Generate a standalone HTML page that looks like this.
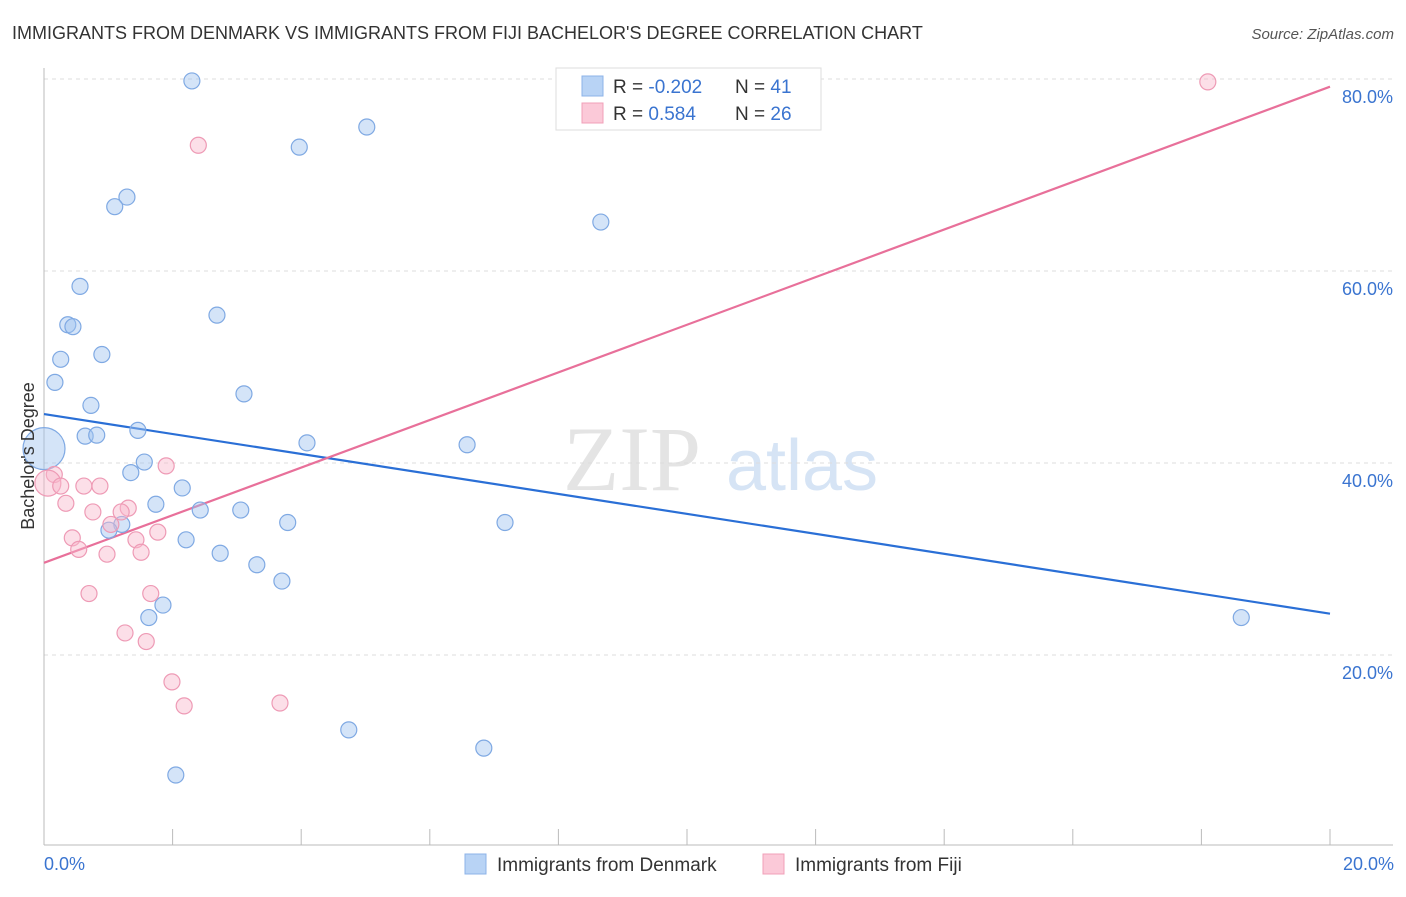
<!DOCTYPE html>
<html><head><meta charset="utf-8"><style>
body{margin:0;background:#fff;font-family:"Liberation Sans",sans-serif;}
svg text{font-family:"Liberation Sans",sans-serif;}
</style></head><body>
<svg id="chart" width="1406" height="892" xmlns="http://www.w3.org/2000/svg">
<text x="12" y="39" font-size="18" fill="#333">IMMIGRANTS FROM DENMARK VS IMMIGRANTS FROM FIJI BACHELOR'S DEGREE CORRELATION CHART</text>
<text x="1394" y="39" font-size="15" fill="#555" text-anchor="end" font-style="italic">Source: ZipAtlas.com</text>
<g>
<text x="632" y="490" font-size="92" fill="#e4e4e4" text-anchor="middle" font-family="Liberation Serif" style="font-family:'Liberation Serif',serif">ZIP</text>
<text x="802" y="490" font-size="72" fill="#d6e4f5" text-anchor="middle">atlas</text>
</g>
<g id="grid"></g><g id="axes"></g><g id="lines"></g><g id="pts"></g>
<text transform="translate(34,456) rotate(-90)" font-size="18" fill="#333" text-anchor="middle">Bachelor's Degree</text>
<text x="44" y="870" font-size="18" fill="#3a74d0">0.0%</text>
<text x="1394" y="870" font-size="18" fill="#3a74d0" text-anchor="end">20.0%</text>
<g>
<rect x="556" y="68" width="265" height="62" fill="#fff" stroke="#ddd"/>
<rect x="582" y="76" width="21" height="20" fill="#b8d3f5" stroke="#8cb3e8"/>
<rect x="582" y="103" width="21" height="20" fill="#fbc9d8" stroke="#f0a0b8"/>
<text x="613" y="93" font-size="19" fill="#333">R = <tspan fill="#3a74d0">-0.202</tspan></text>
<text x="735" y="93" font-size="19" fill="#333">N = <tspan fill="#3a74d0"> 41</tspan></text>
<text x="613" y="120" font-size="19" fill="#333">R = <tspan fill="#3a74d0">  0.584</tspan></text>
<text x="735" y="120" font-size="19" fill="#333">N = <tspan fill="#3a74d0">26</tspan></text>
</g>
<g>
<rect x="465" y="854" width="21" height="20" fill="#b8d3f5" stroke="#8cb3e8"/>
<text x="497" y="871" font-size="19" fill="#333">Immigrants from Denmark</text>
<rect x="763" y="854" width="21" height="20" fill="#fbc9d8" stroke="#f0a0b8"/>
<text x="795" y="871" font-size="19" fill="#333">Immigrants from Fiji</text>
</g>
</svg>
<script>
const yTicks=[20,40,60,80];
const yTickLabels=["20.0%","40.0%","60.0%","80.0%"];
const xTicks=[0,2,4,6,8,10,12,14,16,18,20];
const denX=[2.30,5.02,3.97,1.29,1.10,8.66,0.56,2.69,0.37,0.45,0.26,0.90,0.17,3.11,0.73,1.46,0.64,0.82,4.09,6.58,1.56,1.35,2.15,1.74,2.43,3.06,3.79,7.17,1.21,1.01,2.21,2.74,3.31,3.70,1.85,1.63,18.62,4.74,6.84,2.05,0];
const denY=[79.8,75.0,72.9,67.7,66.7,65.1,58.4,55.4,54.4,54.2,50.8,51.3,48.4,47.2,46.0,43.4,42.8,42.9,42.1,41.9,40.1,39.0,37.4,35.7,35.1,35.1,33.8,33.8,33.6,33.0,32.0,30.6,29.4,27.7,25.2,23.9,23.9,12.2,10.3,7.5,41.5];
const denR=[8,8,8,8,8,8,8,8,8,8,8,8,8,8,8,8,8,8,8,8,8,8,8,8,8,8,8,8,8,8,8,8,8,8,8,8,8,8,8,8,21];
const fijX=[18.10,2.40,1.90,0.16,0.06,0.26,0.62,0.87,0.34,1.31,0.76,1.20,1.04,1.77,0.44,1.43,0.54,0.98,1.51,0.70,1.66,1.26,1.59,1.99,2.18,3.67];
const fijY=[79.7,73.1,39.7,38.8,37.9,37.6,37.6,37.6,35.8,35.3,34.9,34.9,33.6,32.8,32.2,32.0,31.0,30.5,30.7,26.4,26.4,22.3,21.4,17.2,14.7,15.0];
const fijR=[8,8,8,8,13,8,8,8,8,8,8,8,8,8,8,8,8,8,8,8,8,8,8,8,8,8];
const denTrend=[45.1,24.3];
const fijTrend=[29.6,79.2];
const X=v=>44+v*64.3, Y=v=>847-v*9.6;
const NS="http://www.w3.org/2000/svg";
function mk(p,t,a){const e=document.createElementNS(NS,t);for(const k in a)e.setAttribute(k,a[k]);document.getElementById(p).appendChild(e);return e;}
yTicks.forEach((t,i)=>{
 const g=mk('grid','line',{x1:44,x2:1393,y1:Y(t),y2:Y(t),stroke:'#ddd','stroke-dasharray':'4,4'});
 
 
 const l=mk('grid','text',{x:1393,y:Y(t)+24,'font-size':18,fill:'#3a74d0','text-anchor':'end'});
 l.textContent=yTickLabels[i];
 
 
});
mk('axes','line',{x1:44,x2:44,y1:68,y2:845,stroke:'#bbb'});
const xa=mk('axes','line',{x1:44,x2:1393,y1:845,y2:845,stroke:'#bbb'});


xTicks.forEach(t=>{const k=mk('axes','line',{x1:X(t),x2:X(t),y1:829,y2:845,stroke:'#bbb'});
 
 });
function pts(xs,ys,rs,fill,stroke,name){xs.forEach((x,i)=>{const c=mk('pts','circle',{cx:X(x),cy:Y(ys[i]),r:rs[i],fill:fill,stroke:stroke,'stroke-width':1.2});
 
 });}
pts(denX,denY,denR,'rgba(160,195,240,0.45)','#7fa9e3','denmark-point');
pts(fijX,fijY,fijR,'rgba(248,185,205,0.45)','#ee9ab5','fiji-point');
const l1=mk('lines','line',{x1:X(0),x2:X(20),y1:Y(denTrend[0]),y2:Y(denTrend[1]),stroke:'#2a6fd6','stroke-width':2.2});


const l2=mk('lines','line',{x1:X(0),x2:X(20),y1:Y(fijTrend[0]),y2:Y(fijTrend[1]),stroke:'#e8709a','stroke-width':2.2});


</script>
</body></html>
